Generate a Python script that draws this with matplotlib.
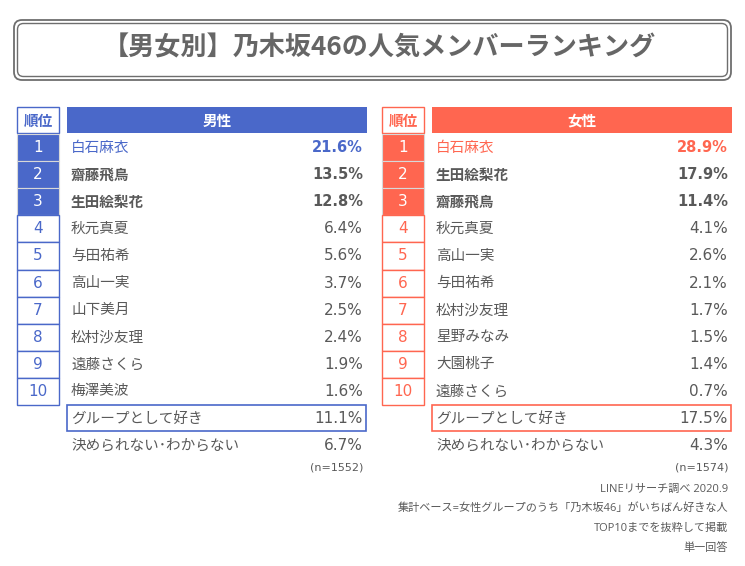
import matplotlib
matplotlib.use("Agg")
from matplotlib import pyplot as plt
from matplotlib.patches import Rectangle, FancyBboxPatch

plt.rcParams['font.family'] = ['Noto Sans CJK JP', 'DejaVu Sans']

title = "【男女別】乃木坂46の人気メンバーランキング"

ranks = ["1", "2", "3", "4", "5", "6", "7", "8", "9", "10"]

male_names = ["白石麻衣", "齋藤飛鳥", "生田絵梨花", "秋元真夏", "与田祐希",
              "高山一実", "山下美月", "松村沙友理", "遠藤さくら", "梅澤美波"]
male_values = [21.6, 13.5, 12.8, 6.4, 5.6, 3.7, 2.5, 2.4, 1.9, 1.6]
male_group = 11.1
male_unknown = 6.7
male_n = 1552

female_names = ["白石麻衣", "生田絵梨花", "齋藤飛鳥", "秋元真夏", "高山一実",
                "与田祐希", "松村沙友理", "星野みなみ", "大園桃子", "遠藤さくら"]
female_values = [28.9, 17.9, 11.4, 4.1, 2.6, 2.1, 1.7, 1.5, 1.4, 0.7]
female_group = 17.5
female_unknown = 4.3
female_n = 1574

notes = ["LINEリサーチ調べ 2020.9",
         "集計ベース=女性グループのうち「乃木坂46」がいちばん好きな人",
         "TOP10までを抜粋して掲載",
         "単一回答"]

GRAY = "#595959"
BLUE = "#4A68C9"
RED = "#FF6650"
NUM_FONT = ['DejaVu Sans']
NOTE_FONT = ['Open Sans', 'Noto Sans CJK JP', 'DejaVu Sans']


def draw_table(ax, x0, label, color, names, values, group, unknown, n):
    """draws one ranking table starting at pixel x0"""
    rank_w = 42
    gap = 8
    body_x = x0 + rank_w + gap
    body_w = 300
    top = 107
    head_h = 27
    row_h = 27.1
    first = top + head_h

    # header cells
    ax.add_patch(Rectangle((x0, top), rank_w, head_h - 1, facecolor="white",
                           edgecolor=color, lw=1))
    ax.text(x0 + rank_w / 2, top + head_h / 2, "順位", color=color,
            ha="center", va="center", fontsize=10.5, fontweight="bold")
    ax.add_patch(Rectangle((body_x, top), body_w, head_h - 1, facecolor=color,
                           edgecolor="none"))
    ax.text(body_x + body_w / 2, top + head_h / 2, label, color="white",
            ha="center", va="center", fontsize=10.5, fontweight="bold")

    for i, (r, name, val) in enumerate(zip(ranks, names, values)):
        y = first + row_h * i
        cy = y + row_h / 2
        if i < 3:
            ax.add_patch(Rectangle((x0, y), rank_w, row_h, facecolor=color,
                                   edgecolor="#d8d8d8", lw=0.8))
            rank_color = "white"
        else:
            ax.add_patch(Rectangle((x0, y), rank_w, row_h, facecolor="white",
                                   edgecolor=color, lw=1))
            rank_color = color
        ax.text(x0 + rank_w / 2, cy, r, color=rank_color, ha="center",
                va="center", fontsize=11, family=NUM_FONT)
        if i == 0:
            tcolor, weight = color, "bold"
        elif i < 3:
            tcolor, weight = GRAY, "bold"
        else:
            tcolor, weight = GRAY, "normal"
        ax.text(body_x + 4, cy, name, color=tcolor,
                ha="left", va="center", fontsize=10.5,
                fontweight="normal" if i == 0 else weight)
        ax.text(body_x + body_w - 4, cy, f"{val:.1f}%", color=tcolor,
                ha="right", va="center",
                fontsize=10.5 if weight == "bold" else 11,
                fontweight=weight, family=NUM_FONT)

    # group row with box
    y = first + row_h * 10
    ax.add_patch(Rectangle((body_x, y), body_w - 1, row_h - 1,
                           facecolor="white", edgecolor=color, lw=1.2))
    ax.text(body_x + 4, y + row_h / 2, "グループとして好き", color=GRAY,
            ha="left", va="center", fontsize=10.5)
    ax.text(body_x + body_w - 4, y + row_h / 2, f"{group:.1f}%", color=GRAY,
            ha="right", va="center", fontsize=11, family=NUM_FONT)

    y = first + row_h * 11
    ax.text(body_x + 4, y + row_h / 2, "決められない･わからない", color=GRAY,
            ha="left", va="center", fontsize=10.5)
    ax.text(body_x + body_w - 4, y + row_h / 2, f"{unknown:.1f}%", color=GRAY,
            ha="right", va="center", fontsize=11, family=NUM_FONT)

    ax.text(body_x + body_w - 4, 468, f"(n={n})", color=GRAY,
            ha="right", va="center", fontsize=8, family=NUM_FONT)
    return body_x + body_w - 4


def main():
    fig = plt.figure(figsize=(7.45, 5.66), dpi=100)
    ax = fig.add_axes([0, 0, 1, 1])
    ax.set_xlim(0, 745)
    ax.set_ylim(566, 0)
    ax.axis("off")

    # title box with a double border
    ax.add_patch(FancyBboxPatch((14, 20), 717, 60,
                                boxstyle="round,pad=0,rounding_size=8",
                                facecolor="white", edgecolor="#6e6e6e", lw=1.3))
    ax.add_patch(FancyBboxPatch((17.5, 23.5), 710, 53,
                                boxstyle="round,pad=0,rounding_size=6",
                                facecolor="none", edgecolor="#6e6e6e", lw=1.0))
    ax.text(379, 48, title, color="#666666", ha="center", va="center",
            fontsize=18.8, fontweight="bold")

    draw_table(ax, 17, "男性", BLUE, male_names, male_values,
               male_group, male_unknown, male_n)
    right = draw_table(ax, 382, "女性", RED, female_names, female_values,
                       female_group, female_unknown, female_n)

    for k, note in enumerate(notes):
        ax.text(right, 489 + 19.8 * k, note, color=GRAY, ha="right",
                va="center", fontsize=8, family=NOTE_FONT)

    fig.savefig("out.png", dpi=100)


if __name__ == "__main__":
    main()
